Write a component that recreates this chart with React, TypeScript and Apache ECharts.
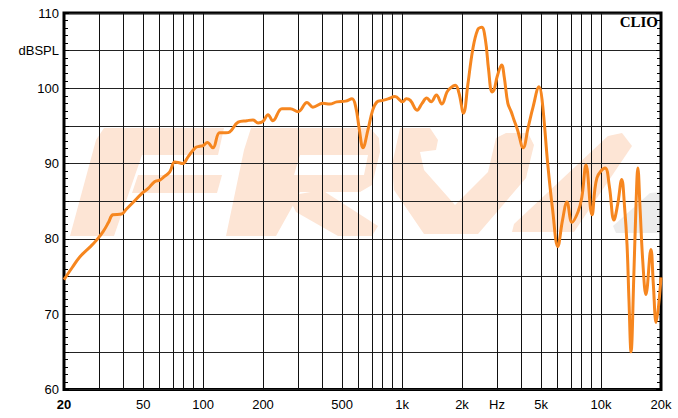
import React, { useEffect, useRef } from "react";
import * as echarts from "echarts";

// Frequency response (Hz) and level (dB SPL)
const freqs = [
  20, 22, 24, 27, 29.3, 31.5, 33.5, 35.2, 39, 41, 44.3, 49.6, 53, 57, 60.6, 64, 68, 72, 76, 79, 84,
  91.3, 96, 100, 105, 112, 121, 130, 136, 150, 166, 178, 189, 200, 212, 224, 249, 274, 300, 333,
  356, 400, 433, 470, 520, 560, 585, 610, 636, 674, 710, 748, 800, 850, 921, 1006, 1050, 1100,
  1189, 1260, 1331, 1400, 1487, 1584, 1680, 1741, 1851, 1930, 2035, 2140, 2263, 2400, 2512, 2620,
  2720, 2830, 2900, 3000, 3165, 3260, 3400, 3533, 3650, 3800, 4060, 4300, 4550, 4880, 5050, 5400,
  5700, 6060, 6400, 6740, 7140, 7660, 8000, 8400, 9000, 9530, 10470, 11000, 11600, 12100, 12700,
  13100, 13500, 13800, 14140, 14600, 15000, 15300, 15700, 16200, 16800, 17800, 18300, 18900, 20000,
];
const spl = [
  74.6, 76.2, 77.6, 78.9, 79.9, 81.0, 82.2, 83.2, 83.3, 83.9, 84.8, 86.1, 86.7, 87.6, 87.8, 88.3,
  88.9, 90.2, 90.1, 90.0, 90.9, 92.1, 92.3, 92.4, 92.8, 92.1, 94.1, 94.1, 94.2, 95.5, 95.7, 95.8,
  95.4, 95.6, 96.5, 95.7, 97.3, 97.3, 96.9, 98.1, 97.5, 98.0, 97.9, 98.2, 98.3, 98.6, 97.5, 94.5,
  92.1, 94.5, 97.0, 98.2, 98.4, 98.6, 98.9, 98.2, 98.6, 98.4, 97.1, 98.0, 98.7, 98.2, 99.1, 97.9,
  99.5, 100.0, 100.4, 99.4, 96.7, 100.5, 105.1, 107.8, 108.1, 106.5, 102.5, 99.5, 99.8, 101.5,
  103.1, 101.5, 98.0, 96.9, 95.8, 94.5, 92.1, 94.8, 97.5, 100.2, 98.5, 89.8, 84.0, 79.0, 82.5,
  84.9, 82.2, 83.6, 85.5, 89.8, 83.2, 88.1, 89.4, 87.0, 82.5, 84.5, 87.9, 84.5, 79.2, 72.0, 65.0,
  75.0, 85.0, 89.4, 84.0, 77.0, 72.6, 78.6, 74.0, 68.9, 74.9,
];

// Axis ticks
const xTickFreqs = [20, 50, 100, 200, 500, 1000, 2000, 3000, 5000, 10000, 20000];
const xTickLabels = ["20", "50", "100", "200", "500", "1k", "2k", "Hz", "5k", "10k", "20k"];
const xGridFreqs = [
  30, 40, 50, 60, 70, 80, 90, 100, 200, 300, 400, 500, 600, 700, 800, 900, 1000, 2000, 3000, 4000,
  5000, 6000, 7000, 8000, 9000, 10000,
];
const yTickValues = [60, 70, 80, 90, 100, 105, 110];
const yTickLabels = ["60", "70", "80", "90", "100", "dBSPL", "110"];

const FONT = '"Liberation Sans", Arial, sans-serif';
const PEACH = "#fde5d5";

export default function App() {
  const ref = useRef<HTMLDivElement>(null);

  useEffect(() => {
    if (!ref.current) return;
    const chart = echarts.init(ref.current, null, { renderer: "svg" });
    const lg = (f: number) => Math.log10(f);
    const curve = freqs.map((f, i) => [lg(f), spl[i]]);

    const poly = (points: number[][], fill: string) => ({
      type: "polygon",
      z: -100,
      silent: true,
      shape: { points },
      style: { fill },
    });

    const yAxisBase = {
      type: "value",
      min: 60,
      max: 110,
      interval: 5,
      axisLine: { show: false },
      axisTick: { show: true, inside: true, length: 5, lineStyle: { color: "#000", width: 1 } },
      minorTick: { show: true, splitNumber: 5, length: 4, lineStyle: { color: "#000", width: 1 } },
    };

    chart.setOption({
      animation: false,
      backgroundColor: "#fff",
      grid: {
        left: 64,
        right: 17,
        top: 13,
        bottom: 28.5,
        show: true,
        borderColor: "#000",
        borderWidth: 3,
        backgroundColor: "transparent",
      },
      xAxis: {
        type: "value",
        min: lg(20),
        max: lg(20000),
        axisLine: { show: false },
        axisTick: { show: false },
        splitLine: { show: false },
        axisLabel: {
          customValues: xTickFreqs.map(lg),
          margin: 8,
          color: "#000",
          fontSize: 13,
          fontFamily: FONT,
          formatter: (v: number) => {
            const i = xTickFreqs.findIndex((f) => Math.abs(lg(f) - v) < 1e-6);
            if (i < 0) return "";
            return i === 0 ? "{b|" + xTickLabels[i] + "}" : xTickLabels[i];
          },
          rich: { b: { fontWeight: "bold", fontSize: 13, fontFamily: FONT, color: "#000" } },
        },
      },
      yAxis: [
        {
          ...yAxisBase,
          position: "left",
          splitLine: { show: true, lineStyle: { color: "#222", width: 1 } },
          axisLabel: {
            margin: 5,
            color: "#000",
            fontSize: 13,
            fontFamily: FONT,
            formatter: (v: number) => {
              const i = yTickValues.indexOf(v);
              return i >= 0 ? yTickLabels[i] : "";
            },
          },
        },
        {
          ...yAxisBase,
          position: "right",
          splitLine: { show: false },
          axisLabel: { show: false },
        },
      ],
      graphic: [
        // watermark "PRV"
        poly([[104, 128], [224, 128], [218, 155], [142, 155], [114, 236], [70, 236], [96, 140]], PEACH),
        poly([[138, 175], [222, 175], [217, 193], [132, 193]], PEACH),
        poly([[251, 128], [370, 128], [379, 138], [380, 152], [372, 185], [360, 192], [300, 192], [296, 200], [276, 236], [226, 236], [244, 150]], PEACH),
        poly([[300, 155], [368, 155], [364, 175], [294, 175]], "#ffffff"),
        poly([[288, 196], [322, 190], [378, 226], [372, 236], [338, 236], [296, 212]], PEACH),
        poly([[400, 128], [430, 128], [438, 140], [436, 150], [420, 152], [424, 170], [455, 205], [488, 172], [496, 138], [506, 133], [528, 133], [534, 145], [526, 178], [478, 234], [424, 234], [394, 190], [392, 165]], PEACH),
        poly([[608, 136], [622, 133], [632, 146], [574, 232], [512, 232], [514, 224]], PEACH),
        poly([[650, 193], [662, 192], [662, 233], [616, 233], [613, 226]], "#ececec"),
        {
          type: "text",
          right: 20,
          top: 14,
          z: 10,
          style: {
            text: "CLIO",
            font: 'bold 15px "Liberation Serif", "DejaVu Serif", serif',
            fill: "#000",
          },
        },
      ],
      series: [
        {
          type: "line",
          z: 1,
          data: [],
          silent: true,
          markLine: {
            silent: true,
            symbol: ["none", "none"],
            label: { show: false },
            lineStyle: { color: "#111", width: 1, type: "solid" },
            data: xGridFreqs.map((f) => ({ xAxis: lg(f) })),
          },
        },
        {
          type: "line",
          z: 5,
          data: curve,
          showSymbol: false,
          smooth: 0.4,
          lineStyle: { color: "#f6861f", width: 3 },
          silent: true,
        },
      ],
    });

    return () => chart.dispose();
  }, []);

  return (
    <div
      ref={ref}
      style={{ position: "fixed", left: 0, top: 0, width: 678, height: 418 }}
    />
  );
}
